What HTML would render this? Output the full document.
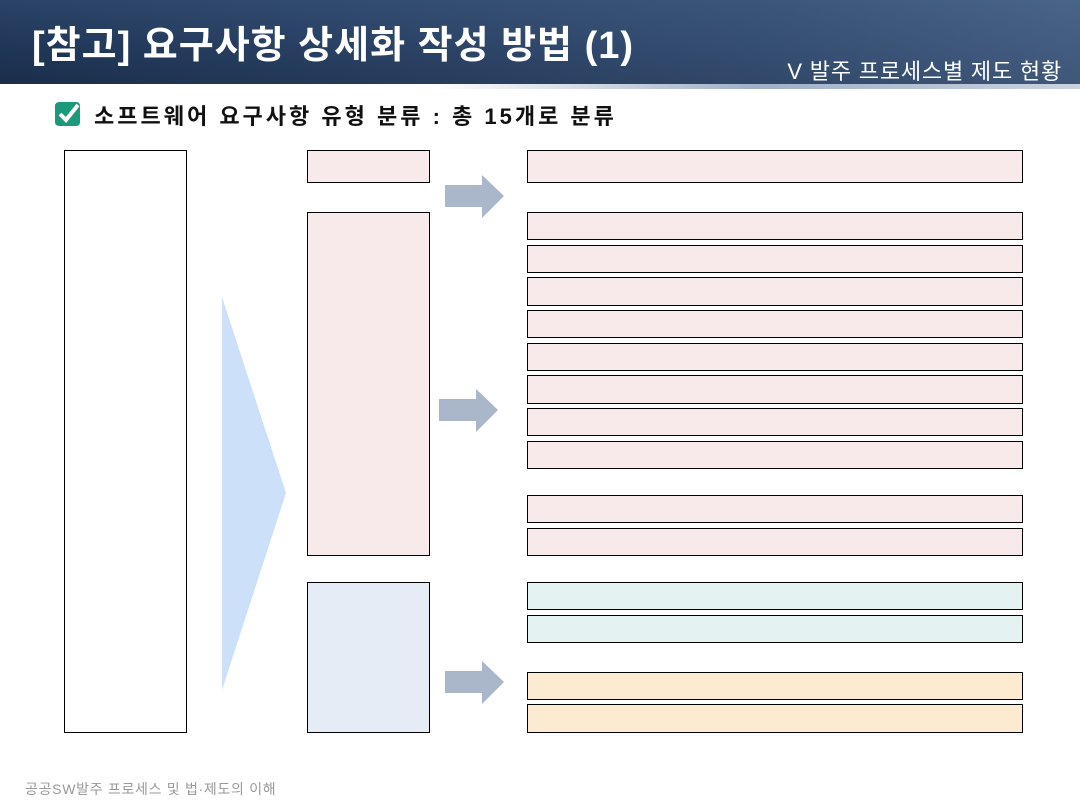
<!DOCTYPE html>
<html><head><meta charset="utf-8"><style>
body{margin:0;width:1080px;height:810px;background:#fff;position:relative;overflow:hidden;font-family:"Liberation Sans","Noto Sans CJK KR",sans-serif}
.hd{position:absolute;left:0;top:0;width:1080px;height:86px;background:linear-gradient(180deg,#2a4366 0%,#1f3556 60%,#1a2d4a 100%)}
.hd2{position:absolute;left:0;top:0;width:1080px;height:86px;background:linear-gradient(90deg,rgba(0,0,0,0) 0%,rgba(90,120,160,0.35) 70%,rgba(120,150,190,0.4) 100%)}
.strip{position:absolute;left:0;top:84px;width:1080px;height:5px;background:linear-gradient(90deg,#fff 0%,#fff 40%,#9fb0c8 70%,#c9d3e0 100%)}
.t{position:absolute;left:32px;top:14px;color:#fff;font-size:38px;font-weight:bold;letter-spacing:1px;white-space:nowrap}
.st{position:absolute;right:18px;top:54px;color:#fff;font-size:22px;letter-spacing:0.8px;white-space:nowrap}
.sub{position:absolute;left:94px;top:99px;font-size:22px;font-weight:bold;color:#111;letter-spacing:3px;white-space:nowrap}
.b{position:absolute;border:1px solid #000;box-sizing:border-box}
.p{background:#f8eaea}.bl{background:#e5ecf6}.tl{background:#e4f2f2}.o{background:#fcebd0}
.ft{position:absolute;left:25px;top:779px;font-size:14px;letter-spacing:0.7px;color:#999}
</style></head><body>
<div class="hd"></div><div class="hd2"></div><div class="strip"></div>
<div class="t">[참고] 요구사항 상세화 작성 방법 (1)</div>
<div class="st">V 발주 프로세스별 제도 현황</div>
<svg style="position:absolute;left:52px;top:100px" width="32" height="28"><path d="M3 6 Q3 2 8 2 L24 2 Q28 2 28 6 L28 22 Q28 26 24 26 L8 26 Q3 26 3 22Z" fill="#1a9a7a"/><path d="M8 14 L14 20 L26 5" stroke="#fff" stroke-width="4" fill="none"/></svg>
<div class="sub">소프트웨어 요구사항 유형 분류 : 총 15개로 분류</div>
<div class="b" style="left:64px;top:150px;width:123px;height:583px"></div>
<svg style="position:absolute;left:0;top:0" width="1080" height="810">
<polygon points="222,297 286,493 222,690" fill="#cde0fa"/>
<polygon points="445,185 482,185 482,175 504,196 482,218 482,207 445,207" fill="#aab6c9"/>
<polygon points="439,399 476,399 476,389 498,410 476,432 476,421 439,421" fill="#aab6c9"/>
<polygon points="445,671 482,671 482,661 504,682 482,704 482,693 445,693" fill="#aab6c9"/>
</svg>
<div class="b p" style="left:307px;top:150px;width:123px;height:33px"></div>
<div class="b p" style="left:307px;top:212px;width:123px;height:344px"></div>
<div class="b bl" style="left:307px;top:582px;width:123px;height:151px"></div>
<div class="b p" style="left:527px;top:150px;width:496px;height:33px"></div>
<div class="b p" style="left:527px;top:212px;width:496px;height:28px"></div>
<div class="b p" style="left:527px;top:245px;width:496px;height:28px"></div>
<div class="b p" style="left:527px;top:277px;width:496px;height:29px"></div>
<div class="b p" style="left:527px;top:310px;width:496px;height:28px"></div>
<div class="b p" style="left:527px;top:343px;width:496px;height:28px"></div>
<div class="b p" style="left:527px;top:375px;width:496px;height:29px"></div>
<div class="b p" style="left:527px;top:408px;width:496px;height:28px"></div>
<div class="b p" style="left:527px;top:441px;width:496px;height:28px"></div>
<div class="b p" style="left:527px;top:495px;width:496px;height:28px"></div>
<div class="b p" style="left:527px;top:528px;width:496px;height:28px"></div>
<div class="b tl" style="left:527px;top:582px;width:496px;height:28px"></div>
<div class="b tl" style="left:527px;top:615px;width:496px;height:28px"></div>
<div class="b o" style="left:527px;top:672px;width:496px;height:28px"></div>
<div class="b o" style="left:527px;top:704px;width:496px;height:29px"></div>
<div class="ft">공공SW발주 프로세스 및 법·제도의 이해</div>
</body></html>
